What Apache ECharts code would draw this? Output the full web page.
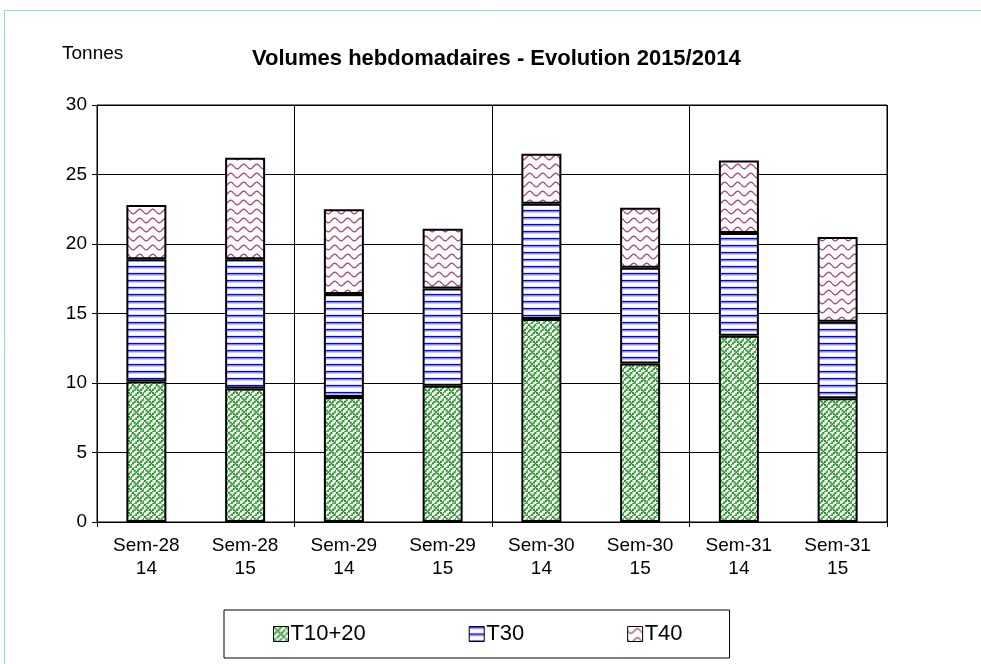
<!DOCTYPE html>
<html>
<head>
<meta charset="utf-8">
<script src="https://cdn.jsdelivr.net/npm/echarts@6/dist/echarts.min.js"></script>
<style>
  html, body { margin: 0; padding: 0; background: #fff; }
  #main { width: 981px; height: 664px; }
</style>
</head>
<body>
<div id="main"></div>
<script>
var weeks = ['Sem-28\n14', 'Sem-28\n15', 'Sem-29\n14', 'Sem-29\n15', 'Sem-30\n14', 'Sem-30\n15', 'Sem-31\n14', 'Sem-31\n15'];
var t1020 = [10.1, 9.6, 9.0, 9.8, 14.6, 11.4, 13.4, 8.9];
var t30 = [8.8, 9.3, 7.4, 7.0, 8.3, 6.9, 7.4, 5.5];
var t40 = [3.9, 7.3, 6.1, 4.3, 3.6, 4.3, 5.2, 6.1];
var yTicks = [0, 5, 10, 15, 20, 25, 30];

// little canvas tiles used as fill patterns
function weaveTile() {
    var bits = [
        '10001000',
        '01010001',
        '00100010',
        '01010100',
        '10001000',
        '00010101',
        '00100010',
        '01000101'
    ];
    var s = 1.6;
    var c = document.createElement('canvas');
    c.width = 8 * s; c.height = 8 * s;
    var ctx = c.getContext('2d');
    ctx.fillStyle = '#fff';
    ctx.fillRect(0, 0, c.width, c.height);
    ctx.fillStyle = '#2f942f';
    for (var r = 0; r < 8; r++) {
        for (var k = 0; k < 8; k++) {
            if (bits[r][k] === '1') ctx.fillRect(k * s, r * s, s + 0.5, s + 0.5);
        }
    }
    return c;
}
function lineTile() {
    var c = document.createElement('canvas');
    c.width = 4; c.height = 7;
    var ctx = c.getContext('2d');
    ctx.fillStyle = '#fff';
    ctx.fillRect(0, 0, 4, 7);
    ctx.fillStyle = '#0000ff';
    ctx.fillRect(0, 0, 4, 1.5);
    ctx.fillStyle = '#9090ff';
    ctx.fillRect(0, 1.5, 4, 1);
    ctx.fillStyle = '#e4e4ff';
    ctx.fillRect(0, 6, 4, 1);
    return c;
}
function waveTile() {
    var c = document.createElement('canvas');
    c.width = 13; c.height = 9;
    var ctx = c.getContext('2d');
    ctx.fillStyle = '#fff';
    ctx.fillRect(0, 0, 13, 9);
    ctx.strokeStyle = '#b04c7c';
    ctx.lineWidth = 1.4;
    ctx.beginPath();
    for (var x = 0; x <= 13; x += 0.5) {
        var y = 4.5 + 2.3 * Math.sin(2 * Math.PI * x / 13);
        if (x === 0) ctx.moveTo(x, y); else ctx.lineTo(x, y);
    }
    ctx.stroke();
    return c;
}

var myChart = echarts.init(document.getElementById('main'));
var font = 'Liberation Sans, Arial, sans-serif';

function everyOther(index) {
    return index % 2 === 0;
}

function barSeries(name, data, tile) {
    return {
        name: name,
        type: 'bar',
        stack: 'vol',
        barWidth: 40,
        data: data,
        itemStyle: {
            color: { image: tile, repeat: 'repeat' },
            borderColor: '#000',
            borderWidth: 2
        }
    };
}

var option = {
    animation: false,
    textStyle: { fontFamily: font, color: '#000' },
    title: {
        text: 'Volumes hebdomadaires - Evolution 2015/2014',
        left: 247,
        top: 43,
        textStyle: { fontSize: 22, fontWeight: 'bold', color: '#000', fontFamily: font }
    },
    graphic: [
        {
            type: 'text', left: 62, top: 44,
            style: { text: 'Tonnes', fontSize: 19, fill: '#000', fontFamily: font }
        },
        {
            type: 'rect', shape: { x: 4.5, y: 10.5, width: 1100, height: 800 },
            style: { fill: 'none', stroke: '#8ed4f2', lineWidth: 1 }, silent: true
        }
    ],
    legend: {
        left: 224,
        top: 610,
        padding: [13, 47, 13, 49],
        itemGap: 103,
        itemWidth: 15,
        itemHeight: 15,
        borderColor: '#000',
        borderWidth: 1,
        icon: 'rect',
        itemStyle: { borderColor: '#000', borderWidth: 1 },
        textStyle: { fontSize: 22, color: '#000', fontFamily: font, padding: [0, 0, 0, -3] },
        data: ['T10+20', 'T30', 'T40']
    },
    grid: {
        left: 97, right: 94, top: 105, bottom: 142,
        show: true, borderColor: '#000', borderWidth: 1
    },
    xAxis: {
        type: 'category',
        data: weeks,
        axisLine: { lineStyle: { color: '#000', width: 1 } },
        axisTick: { show: true, interval: everyOther, length: 5, lineStyle: { color: '#000' } },
        splitLine: { show: true, interval: everyOther, lineStyle: { color: '#000', width: 1 } },
        axisLabel: { interval: 0, fontSize: 19, lineHeight: 23, margin: 12, color: '#000', fontFamily: font }
    },
    yAxis: {
        type: 'value',
        min: yTicks[0],
        max: yTicks[yTicks.length - 1],
        interval: yTicks[1] - yTicks[0],
        axisLine: { show: true, lineStyle: { color: '#000', width: 1 } },
        axisTick: { show: true, length: 5, lineStyle: { color: '#000' } },
        splitLine: { show: true, lineStyle: { color: '#000', width: 1 } },
        axisLabel: { fontSize: 19, margin: 10, color: '#000', fontFamily: font }
    },
    series: [
        barSeries('T10+20', t1020, weaveTile()),
        barSeries('T30', t30, lineTile()),
        barSeries('T40', t40, waveTile())
    ]
};

option && myChart.setOption(option);
</script>
</body>
</html>
